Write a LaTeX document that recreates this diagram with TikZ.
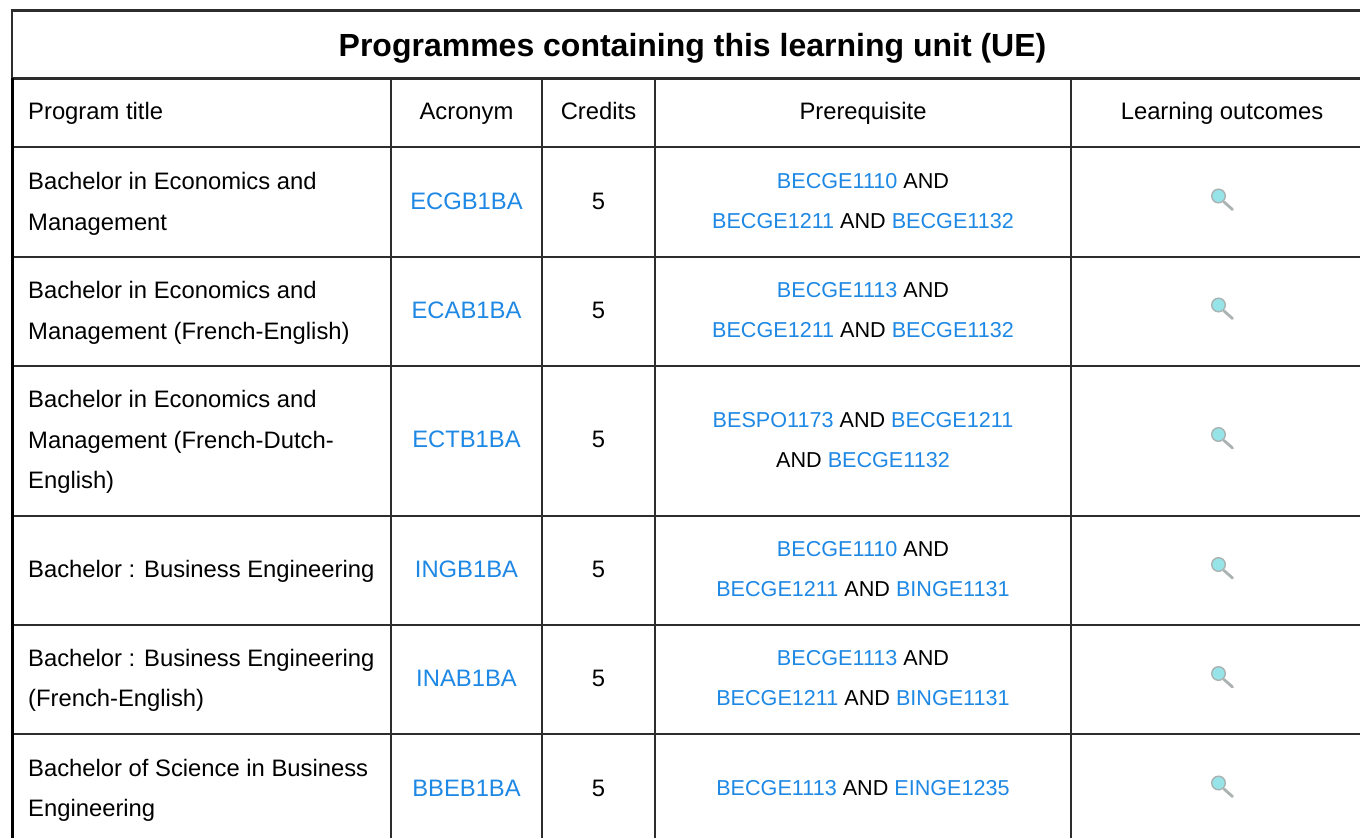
\documentclass[tikz,border=0pt]{standalone}
\usepackage{fontspec}
\setmainfont{Liberation Sans}
\definecolor{lnk}{RGB}{30,136,229}
\definecolor{rule}{RGB}{45,45,45}
\definecolor{lens}{RGB}{150,228,232}
\definecolor{ring}{RGB}{170,178,178}
\newcommand{\lk}[1]{\textcolor{lnk}{#1}}
\begin{document}
\begin{tikzpicture}[x=1pt,y=-1pt,
  txt/.style={font=\fontsize{23.8}{40.5}\selectfont,text=black,inner sep=0pt,text depth=0pt},
  leftc/.style={txt,anchor=west,align=left},
  midc/.style={txt,anchor=center,align=center},
  headl/.style={txt,anchor=base west},
  headc/.style={txt,anchor=base},
  prereq/.style={midc,font=\fontsize{21.6}{40.5}\selectfont},
  grid/.style={draw=rule,line width=2.4pt}]
\useasboundingbox (0,0) rectangle (1360,838);
\fill[white] (0,0) rectangle (1360,838);
% horizontal rules
\foreach \y in {78.5,147,257,366,516,625,734}{\draw[grid] (12,\y) -- (1360,\y);}
\draw[draw=rule,line width=2.6pt] (10.5,10.5) -- (1360,10.5);
% vertical rules
\draw[draw=rule,line width=2pt] (11.5,10) -- (11.5,78.5);
\draw[draw=black,line width=3.2pt] (12.4,78) -- (12.4,838);
\foreach \x in {391,542,655,1071}{\draw[grid] (\x,78) -- (\x,838);}
% title
\node[txt,font=\bfseries\fontsize{32}{36}\selectfont] (title) at (692.5,44.5) {Programmes containing this learning unit (UE)};
% header
\node[headl] (h1) at (28,119.5) {Program title};
\node[headc] (h2) at (466.5,119.5) {Acronym};
\node[headc] (h3) at (598.5,119.5) {Credits};
\node[headc] (h4) at (863,119.5) {Prerequisite};
\node[headc] (h5) at (1222,119.5) {Learning outcomes};
% column 1
\node[leftc] (t1) at (28,201.5) {Bachelor in Economics and\\Management};
\node[leftc] (t2) at (28,310.5) {Bachelor in Economics and\\Management (French-English)};
\node[leftc] (t3) at (28,439.5) {Bachelor in Economics and\\Management (French-Dutch-\\English)};
\node[leftc] (t4) at (28,569) {Bachelor : Business Engineering};
\node[leftc] (t5) at (28,678) {Bachelor : Business Engineering\\(French-English)};
\node[leftc] (t6) at (28,788) {Bachelor of Science in Business\\Engineering};
% acronyms
\node[midc] (a1) at (466.5,201) {\lk{ECGB1BA}};
\node[midc] (a2) at (466.5,310) {\lk{ECAB1BA}};
\node[midc] (a3) at (466.5,439.5) {\lk{ECTB1BA}};
\node[midc] (a4) at (466.5,569) {\lk{INGB1BA}};
\node[midc] (a5) at (466.5,678) {\lk{INAB1BA}};
\node[midc] (a6) at (466.5,788) {\lk{BBEB1BA}};
% credits
\foreach \y/\n in {201/1,310/2,439.5/3,569/4,678/5,788/6}{\node[midc] (c\n) at (598.5,\y) {5};}
% prerequisites
\node[prereq] (p1) at (863,201) {\lk{BECGE1110} AND\\\lk{BECGE1211} AND \lk{BECGE1132}};
\node[prereq] (p2) at (863,310) {\lk{BECGE1113} AND\\\lk{BECGE1211} AND \lk{BECGE1132}};
\node[prereq] (p3) at (863,440) {\lk{BESPO1173} AND \lk{BECGE1211}\\AND \lk{BECGE1132}};
\node[prereq] (p4) at (863,569) {\lk{BECGE1110} AND\\\lk{BECGE1211} AND \lk{BINGE1131}};
\node[prereq] (p5) at (863,678) {\lk{BECGE1113} AND\\\lk{BECGE1211} AND \lk{BINGE1131}};
\node[prereq] (p6) at (863,788) {\lk{BECGE1113} AND \lk{EINGE1235}};
% magnifier icons
\foreach \y in {199,308,437.5,567.5,676.5,786}{
  \draw[draw=ring,line width=2.8pt,line cap=round] (1224,\y+3) -- (1232.5,\y+10.5);
  \draw[draw=ring,fill=lens,line width=1.4pt] (1218.5,\y-3) circle (6.8pt);
}
\end{tikzpicture}
\end{document}
